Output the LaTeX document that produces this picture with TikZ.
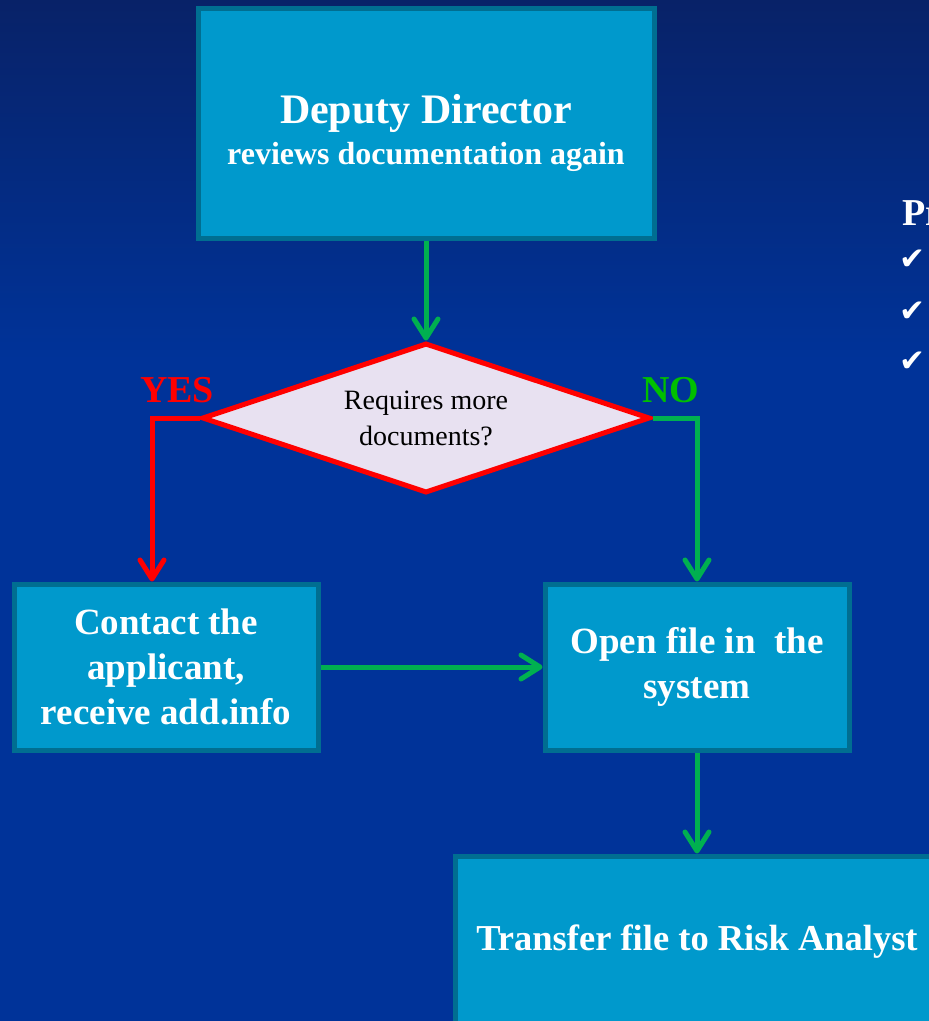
\documentclass[tikz,border=0pt]{standalone}
\usepackage{fontspec}
\setmainfont{Liberation Serif}
\newfontfamily\symfont{DejaVu Sans}
\usetikzlibrary{shapes.geometric, arrows.meta, calc, positioning}

\definecolor{bgtop}{RGB}{8,34,104}
\definecolor{bgblue}{RGB}{0,51,153}
\definecolor{boxfill}{RGB}{0,153,204}
\definecolor{boxline}{RGB}{0,110,145}
\definecolor{qfill}{RGB}{232,225,241}
\definecolor{flowgreen}{RGB}{0,176,80}
\definecolor{nogreen}{RGB}{0,192,0}

\tikzset{
  stepbox/.style={draw=boxline, line width=5pt, fill=boxfill, text=white,
    align=center, inner sep=0pt, font=\bfseries\fontsize{37}{45}\selectfont},
  question/.style={diamond, draw=red, line width=5pt, fill=qfill, text=black,
    align=center, inner sep=0pt, aspect=3, minimum width=448pt, minimum height=150pt,
    font=\fontsize{28}{36}\selectfont},
  flow/.style={draw=flowgreen, line width=5pt,
    -{Straight Barb[length=19pt, width=24pt, line width=5pt, round]}},
  noflow/.style={flow, draw=red},
  answer/.style={font=\bfseries\fontsize{38}{38}\selectfont},
  tick/.style={text=white, font=\symfont\fontsize{31}{31}\selectfont},
}

\begin{document}
\begin{tikzpicture}[x=1pt, y=-1pt]
        \useasboundingbox (0,0) rectangle (929,1021);
        \clip (0,0) rectangle (929,1021);
        \fill[bgblue] (0,0) rectangle (929,1021);
        \shade[top color=bgtop, bottom color=bgblue] (0,0) rectangle (929,360);

        \node[stepbox, minimum width=456pt, minimum height=230pt] (Dd) at (426,123)
            {\fontsize{42}{45}\selectfont\rule{0pt}{50pt}Deputy Director\\[-4pt]{\fontsize{32}{40}\selectfont reviews documentation again}};
        \node[question] (Q) at (426,418) {Requires more\\documents?};
        \node[stepbox, minimum width=304pt, minimum height=166pt] (Ca) at (166,667)
            {Contact the\\applicant,\\receive add.info};
        \node[stepbox, minimum width=304pt, minimum height=166pt] (Of) at (697,667)
            {Open file in\ \ the\\system};
        \node[stepbox, minimum width=484pt, minimum height=172pt,
              font=\bfseries\fontsize{36.5}{45}\selectfont] (Tr) at (697,942)
            {Transfer file to Risk Analyst};
        \node[answer, text=red] (yes) at (177,390) {YES};
        \node[answer, text=nogreen] (no) at (671,390) {NO};

        \node[anchor=base west, text=white, font=\bfseries\fontsize{38}{38}\selectfont] (pr) at (899,225) {Pr};
        \node[tick] (t1) at (912,260) {✔};
        \node[tick] (t2) at (912,312) {✔};
        \node[tick] (t3) at (912,362) {✔};

        \draw[flow] (Dd.south) -- (Q.north);
        \draw[noflow] (Q.west) -| ([xshift=-14pt]Ca.north);
        \draw[flow] (Q.east) -| (Of.north);
        \draw[flow] (Ca.east) -- (Of.west);
        \draw[flow] (Of.south) -- (Tr.north);
    \end{tikzpicture}
\end{document}
